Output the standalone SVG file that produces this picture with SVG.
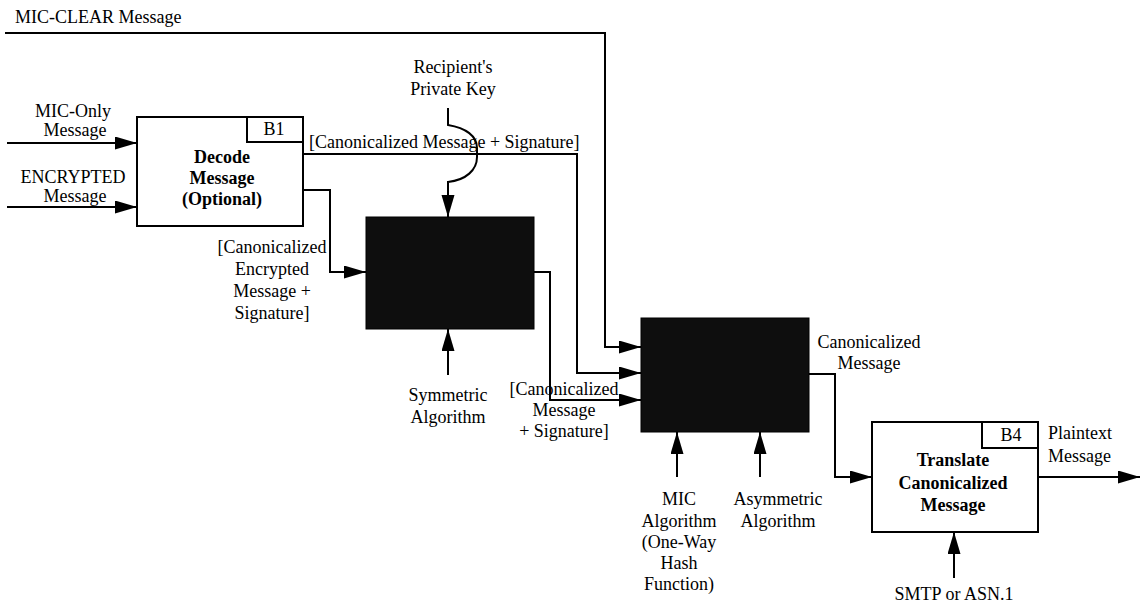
<svg xmlns="http://www.w3.org/2000/svg" width="1144" height="606" viewBox="0 0 1144 606">
  <style>
    text { font-family: "Liberation Serif", "Times New Roman", serif; font-size: 18px; fill: #000; }
    .b { font-weight: bold; }
    .c { text-anchor: middle; }
    .box { fill: #fff; stroke: #000; stroke-width: 2; }
    .dark { fill: #0e0e0e; stroke: #000; stroke-width: 1; }
    .wire { fill: none; stroke: #000; stroke-width: 2; }
    .arr { marker-end: url(#head); }
  </style>
  <defs>
    <marker id="head" markerUnits="userSpaceOnUse" markerWidth="23" markerHeight="14" refX="22" refY="6.5" orient="auto">
      <path d="M0,0 L22,6.5 L0,13 Z" fill="#000"/>
    </marker>
  </defs>

  <rect width="1144" height="606" fill="#fff"/>

  <!-- connectors -->
  <g id="connectors">
    <!-- MIC-CLEAR message straight to the verification box -->
    <path class="wire arr" d="M5,33 H605 V347 H641"/>
    <!-- inputs to decode -->
    <path class="wire arr" d="M7,143 H137"/>
    <path class="wire arr" d="M7,207 H137"/>
    <!-- decode: canonicalized message + signature -->
    <path class="wire arr" d="M303,154 H577 V373 H641"/>
    <!-- decode: encrypted message + signature to decrypt -->
    <path class="wire arr" d="M303,190 H330 V272 H366"/>
    <!-- recipient's private key, hopping over the wire -->
    <path class="wire arr" d="M448,108 V125 C466,128 477,136 477,148 V157 C477,170 466,180 448,182 V217"/>
    <!-- symmetric algorithm -->
    <path class="wire arr" d="M448,375 V329"/>
    <!-- decrypt output -->
    <path class="wire arr" d="M534,272 H550 V400 H641"/>
    <!-- MIC / asymmetric algorithm mechanisms -->
    <path class="wire arr" d="M677,477 V432"/>
    <path class="wire arr" d="M760,477 V432"/>
    <!-- canonicalized message to translate -->
    <path class="wire arr" d="M809,374 H835 V477 H872"/>
    <!-- SMTP or ASN.1 -->
    <path class="wire arr" d="M954,578 V532"/>
    <!-- plaintext output -->
    <path class="wire arr" d="M1038,477 H1140"/>
  </g>

  <!-- B1: decode message -->
  <g id="b1">
    <rect class="box" x="137" y="117" width="166" height="109"/>
    <path class="wire" d="M247,117 V142 H303"/>
    <text class="c" x="274" y="135">B1</text>
    <text class="b c" x="222" y="163">Decode</text>
    <text class="b c" x="222" y="184">Message</text>
    <text class="b c" x="222" y="205">(Optional)</text>
  </g>

  <!-- B2: decrypt (shaded) -->
  <g id="b2">
    <rect class="dark" x="366" y="217" width="168" height="112"/>
  </g>

  <!-- B3: verify signature (shaded) -->
  <g id="b3">
    <rect class="dark" x="641" y="318" width="168" height="114"/>
  </g>

  <!-- B4: translate canonicalized message -->
  <g id="b4">
    <rect class="box" x="872" y="422" width="166" height="110"/>
    <path class="wire" d="M982,422 V448 H1038"/>
    <text class="c" x="1011" y="441">B4</text>
    <text class="b c" x="953" y="466">Translate</text>
    <text class="b c" x="953" y="489">Canonicalized</text>
    <text class="b c" x="953" y="511">Message</text>
  </g>

  <!-- labels -->
  <g id="labels">
    <text x="15" y="23">MIC-CLEAR Message</text>
    <text class="c" x="73" y="117">MIC-Only</text>
    <text class="c" x="75" y="136">Message</text>
    <text class="c" x="73" y="183">ENCRYPTED</text>
    <text class="c" x="75" y="202">Message</text>
    <text class="c" x="453" y="73">Recipient's</text>
    <text class="c" x="453" y="95">Private Key</text>
    <text x="309" y="148">[Canonicalized Message + Signature]</text>
    <text class="c" x="272" y="253">[Canonicalized</text>
    <text class="c" x="272" y="275">Encrypted</text>
    <text class="c" x="272" y="297">Message +</text>
    <text class="c" x="272" y="319">Signature]</text>
    <text class="c" x="448" y="401">Symmetric</text>
    <text class="c" x="448" y="423">Algorithm</text>
    <text class="c" x="564" y="395">[Canonicalized</text>
    <text class="c" x="564" y="416">Message</text>
    <text class="c" x="564" y="437">+ Signature]</text>
    <text class="c" x="869" y="348">Canonicalized</text>
    <text class="c" x="869" y="369">Message</text>
    <text class="c" x="679" y="505">MIC</text>
    <text class="c" x="679" y="527">Algorithm</text>
    <text class="c" x="679" y="548">(One-Way</text>
    <text class="c" x="679" y="569">Hash</text>
    <text class="c" x="679" y="590">Function)</text>
    <text class="c" x="778" y="505">Asymmetric</text>
    <text class="c" x="778" y="527">Algorithm</text>
    <text x="1048" y="439">Plaintext</text>
    <text x="1048" y="462">Message</text>
    <text class="c" x="954" y="600">SMTP or ASN.1</text>
  </g>
</svg>
